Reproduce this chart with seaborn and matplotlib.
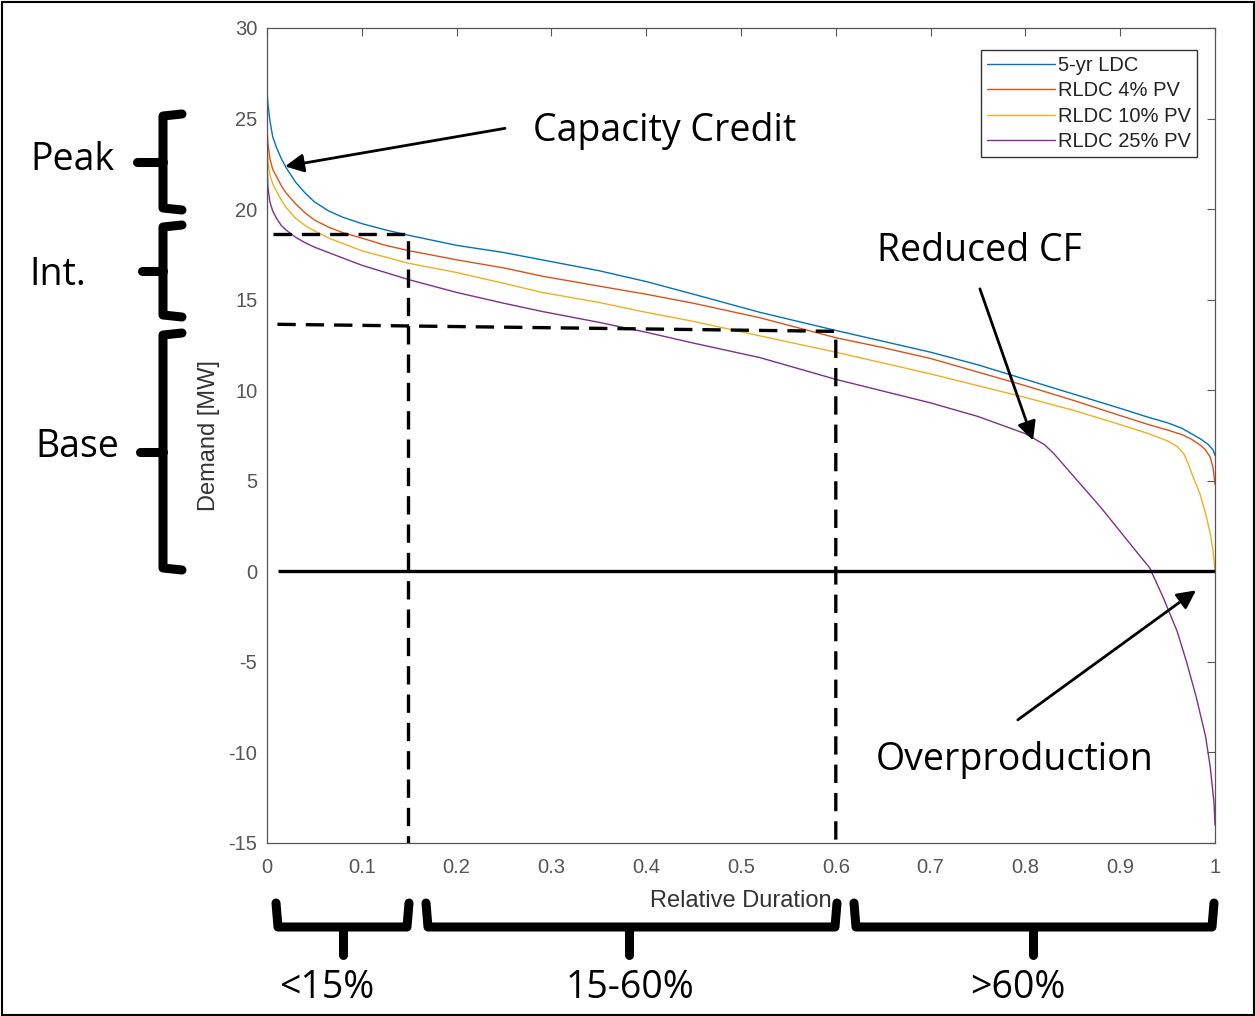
import numpy as np
import pandas as pd
import matplotlib
matplotlib.use("Agg")
import matplotlib.pyplot as plt
import seaborn as sns

# Load duration curves: relative duration vs. demand [MW]
ldc_5yr_x = [0.0, 0.001, 0.003, 0.006, 0.01, 0.015, 0.02, 0.03, 0.04, 0.05, 0.065, 0.08,
             0.1, 0.125, 0.15, 0.2, 0.25, 0.29, 0.35, 0.4, 0.45, 0.52, 0.6, 0.65,
             0.7, 0.75, 0.8, 0.85, 0.9, 0.93, 0.95, 0.965, 0.975, 0.985, 0.993,
             0.998, 1.0]
ldc_5yr_y = [26.5, 25.8, 24.9, 24.0, 23.4, 22.8, 22.3, 21.5, 20.9, 20.4, 19.9, 19.55,
             19.2, 18.85, 18.55, 18.0, 17.6, 17.2, 16.6, 16.0, 15.3, 14.3, 13.3, 12.7,
             12.1, 11.4, 10.6, 9.8, 9.0, 8.5, 8.2, 7.9, 7.6, 7.3, 7.0,
             6.7, 6.4]

rldc_4pv_x = [0.0, 0.001, 0.003, 0.006, 0.01, 0.015, 0.02, 0.03, 0.04, 0.05, 0.065, 0.08,
              0.1, 0.125, 0.15, 0.2, 0.25, 0.29, 0.35, 0.4, 0.45, 0.52, 0.6, 0.65,
              0.7, 0.75, 0.8, 0.85, 0.9, 0.93, 0.95, 0.965, 0.975, 0.985, 0.99,
              0.995, 0.998, 1.0]
rldc_4pv_y = [24.5, 23.6, 22.8, 22.2, 21.8, 21.3, 20.9, 20.3, 19.8, 19.4, 19.0, 18.7,
              18.4, 18.0, 17.7, 17.2, 16.75, 16.3, 15.75, 15.3, 14.8, 14.0, 12.9, 12.35,
              11.75, 11.0, 10.25, 9.45, 8.6, 8.1, 7.8, 7.55, 7.3, 6.95, 6.7,
              6.3, 5.7, 4.8]

rldc_10pv_x = [0.0, 0.001, 0.003, 0.006, 0.01, 0.015, 0.02, 0.03, 0.04, 0.05, 0.065, 0.08,
               0.1, 0.125, 0.15, 0.2, 0.25, 0.29, 0.35, 0.4, 0.45, 0.52, 0.6, 0.65,
               0.7, 0.75, 0.8, 0.85, 0.9, 0.93, 0.95, 0.96, 0.967, 0.972, 0.977,
               0.984, 0.99, 0.995, 0.998, 1.0]
rldc_10pv_y = [23.6, 22.6, 21.9, 21.4, 21.0, 20.5, 20.1, 19.5, 19.1, 18.8, 18.4, 18.1,
               17.7, 17.35, 17.0, 16.5, 15.9, 15.4, 14.85, 14.3, 13.8, 13.0, 12.1, 11.5,
               10.9, 10.25, 9.6, 8.9, 8.1, 7.6, 7.2, 6.9, 6.5, 5.9, 5.2,
               4.3, 3.2, 2.1, 1.1, 0.0]

rldc_25pv_x = [0.0, 0.001, 0.003, 0.006, 0.01, 0.015, 0.02, 0.03, 0.04, 0.05, 0.065, 0.08,
               0.1, 0.125, 0.15, 0.2, 0.25, 0.29, 0.35, 0.4, 0.45, 0.52, 0.6, 0.65,
               0.7, 0.75, 0.8, 0.81, 0.82, 0.83, 0.84, 0.86, 0.88, 0.9, 0.92,
               0.931, 0.945, 0.96, 0.97, 0.98, 0.99, 0.995, 0.999, 1.0]
rldc_25pv_y = [22.5, 21.2, 20.4, 19.9, 19.5, 19.1, 18.85, 18.45, 18.15, 17.9, 17.6, 17.3,
               16.9, 16.5, 16.1, 15.4, 14.8, 14.35, 13.75, 13.2, 12.6, 11.8, 10.6, 9.95,
               9.3, 8.55, 7.6, 7.3, 7.0, 6.5, 5.9, 4.7, 3.5, 2.2, 0.9,
               0.2, -1.4, -3.3, -5.0, -6.9, -9.1, -10.8, -12.8, -14.0]

series_names = ["5-yr LDC", "RLDC 4% PV", "RLDC 10% PV", "RLDC 25% PV"]
series_colors = ["#0072BD", "#D95319", "#EDB120", "#7E2F8E"]

x_ticks = [0, 0.1, 0.2, 0.3, 0.4, 0.5, 0.6, 0.7, 0.8, 0.9, 1.0]
x_tick_labels = ["0", "0.1", "0.2", "0.3", "0.4", "0.5", "0.6", "0.7", "0.8", "0.9", "1"]
y_ticks = [-15, -10, -5, 0, 5, 10, 15, 20, 25, 30]

# Duration thresholds and demand levels for the guide lines
split_low, split_high = 0.15, 0.6
level_int, level_base_left, level_base_right = 18.6, 13.64, 13.25

curves = [(ldc_5yr_x, ldc_5yr_y), (rldc_4pv_x, rldc_4pv_y),
          (rldc_10pv_x, rldc_10pv_y), (rldc_25pv_x, rldc_25pv_y)]
df = pd.concat([pd.DataFrame({"duration": cx, "demand": cy, "series": name})
                for name, (cx, cy) in zip(series_names, curves)], ignore_index=True)

sns.set_style("white")
plt.rcParams["font.family"] = ["Liberation Sans", "DejaVu Sans"]
plt.rcParams["axes.unicode_minus"] = False

W, H = 1255, 1016
fig = plt.figure(figsize=(W / 100, H / 100), dpi=100)
ax = fig.add_axes([267 / W, 1 - 843 / H, (1215 - 267) / W, (843 - 28) / H])

sns.lineplot(data=df, x="duration", y="demand", hue="series", hue_order=series_names,
             palette=series_colors, linewidth=1.0, estimator=None, sort=False,
             legend=False, ax=ax)

ax.set_xlim(0, 1)
ax.set_ylim(-15, 30)
ax.set_xticks(x_ticks)
ax.set_xticklabels(x_tick_labels)
ax.set_yticks(y_ticks)
ax.tick_params(direction="in", length=6, width=0.8, colors="#555555", labelsize=14.5,
               top=True, right=True)
ax.tick_params(axis="x", pad=11)
ax.tick_params(axis="y", pad=7)
for sp in ax.spines.values():
    sp.set_color("#555555")
    sp.set_linewidth(0.9)
ax.set_xlabel("Relative Duration", fontsize=17, color="#333333", labelpad=9)
ax.set_ylabel("Demand [MW]", fontsize=17, color="#333333", labelpad=6)

leg = ax.legend(handles=ax.get_lines()[:4], labels=series_names, loc="upper right",
                bbox_to_anchor=(1197 / W, 1 - 50 / H), bbox_transform=fig.transFigure,
                fontsize=14.5, handlelength=3.4, handletextpad=0.15, borderpad=0.3,
                labelspacing=0.32, fancybox=False, framealpha=1, borderaxespad=0)
leg.get_frame().set_edgecolor("#333333")
leg.get_frame().set_linewidth(1.0)
for t in leg.get_texts():
    t.set_color("#222222")

# Zero line and duration / demand guides
ax.plot([0.012, 1.0], [0, 0], color="black", lw=2.4, solid_capstyle="butt")
dash = dict(color="black", lw=2.4, dashes=(5.5, 3), clip_on=False)
ax.plot([0.006, split_low - 0.001, split_low - 0.001], [level_int, level_int, -15], **dash)
ax.plot([0.011, split_high, split_high], [level_base_left, level_base_right, -15], **dash)

label_font = dict(family=["Open Sans", "DejaVu Sans"], color="black")
big = 27
arrow = dict(arrowstyle="-|>", color="black", lw=2, mutation_scale=28,
             shrinkA=0, shrinkB=0)
ax.annotate("", xy=(0.019, 22.36), xytext=(0.251, 24.46), arrowprops=arrow)
ax.text(0.419, 24.3, "Capacity Credit", ha="center", va="center", fontsize=big, **label_font)
ax.annotate("", xy=(0.808, 7.23), xytext=(0.752, 15.6), arrowprops=arrow)
ax.text(0.752, 17.7, "Reduced CF", ha="center", va="center", fontsize=big, **label_font)
ax.annotate("", xy=(0.98, -1.05), xytext=(0.792, -8.2), arrowprops=arrow)
ax.text(0.789, -10.4, "Overproduction", ha="center", va="center", fontsize=big, **label_font)

# Overlay in pixel space for the braces and their labels
ov = fig.add_axes([0, 0, 1, 1], zorder=5)
ov.set_xlim(0, W)
ov.set_ylim(H, 0)
ov.axis("off")
ov.patch.set_alpha(0)

brace = dict(color="black", lw=6.5, solid_joinstyle="round", solid_capstyle="round")


def vbrace(top, bottom, x=163, hook=182, tip=137):
    mid = (top + bottom) / 2
    ov.plot([hook, x, x, hook], [top, top + 2, bottom - 2, bottom], **brace)
    ov.plot([x, tip], [mid, mid], **brace)


def hbrace(left, right, y=927, hook=903, tip=955, mid=None):
    mid = (left + right) / 2 if mid is None else mid
    ov.plot([left, left + 2, right - 2, right], [hook, y, y, hook], **brace)
    ov.plot([mid, mid], [y, tip], **brace)


vbrace(114, 210)
vbrace(225, 317, tip=142)
vbrace(333, 570, tip=140)
ov.text(72, 160, "Peak", ha="center", va="center", fontsize=big, **label_font)
ov.text(58, 275, "Int.", ha="center", va="center", fontsize=big, **label_font)
ov.text(77, 447, "Base", ha="center", va="center", fontsize=big, **label_font)

hbrace(276, 409, mid=343)
hbrace(426, 837, mid=629)
hbrace(854, 1214, mid=1033)
ov.text(327, 988, "<15%", ha="center", va="center", fontsize=big, **label_font)
ov.text(630, 988, "15-60%", ha="center", va="center", fontsize=big, **label_font)
ov.text(1018, 988, ">60%", ha="center", va="center", fontsize=big, **label_font)

# Frame around the whole figure
ov.add_patch(plt.Rectangle((1.5, 1.5), W - 3, H - 3, fill=False, edgecolor="black", lw=1.5))

fig.savefig("out.png", dpi=100)
